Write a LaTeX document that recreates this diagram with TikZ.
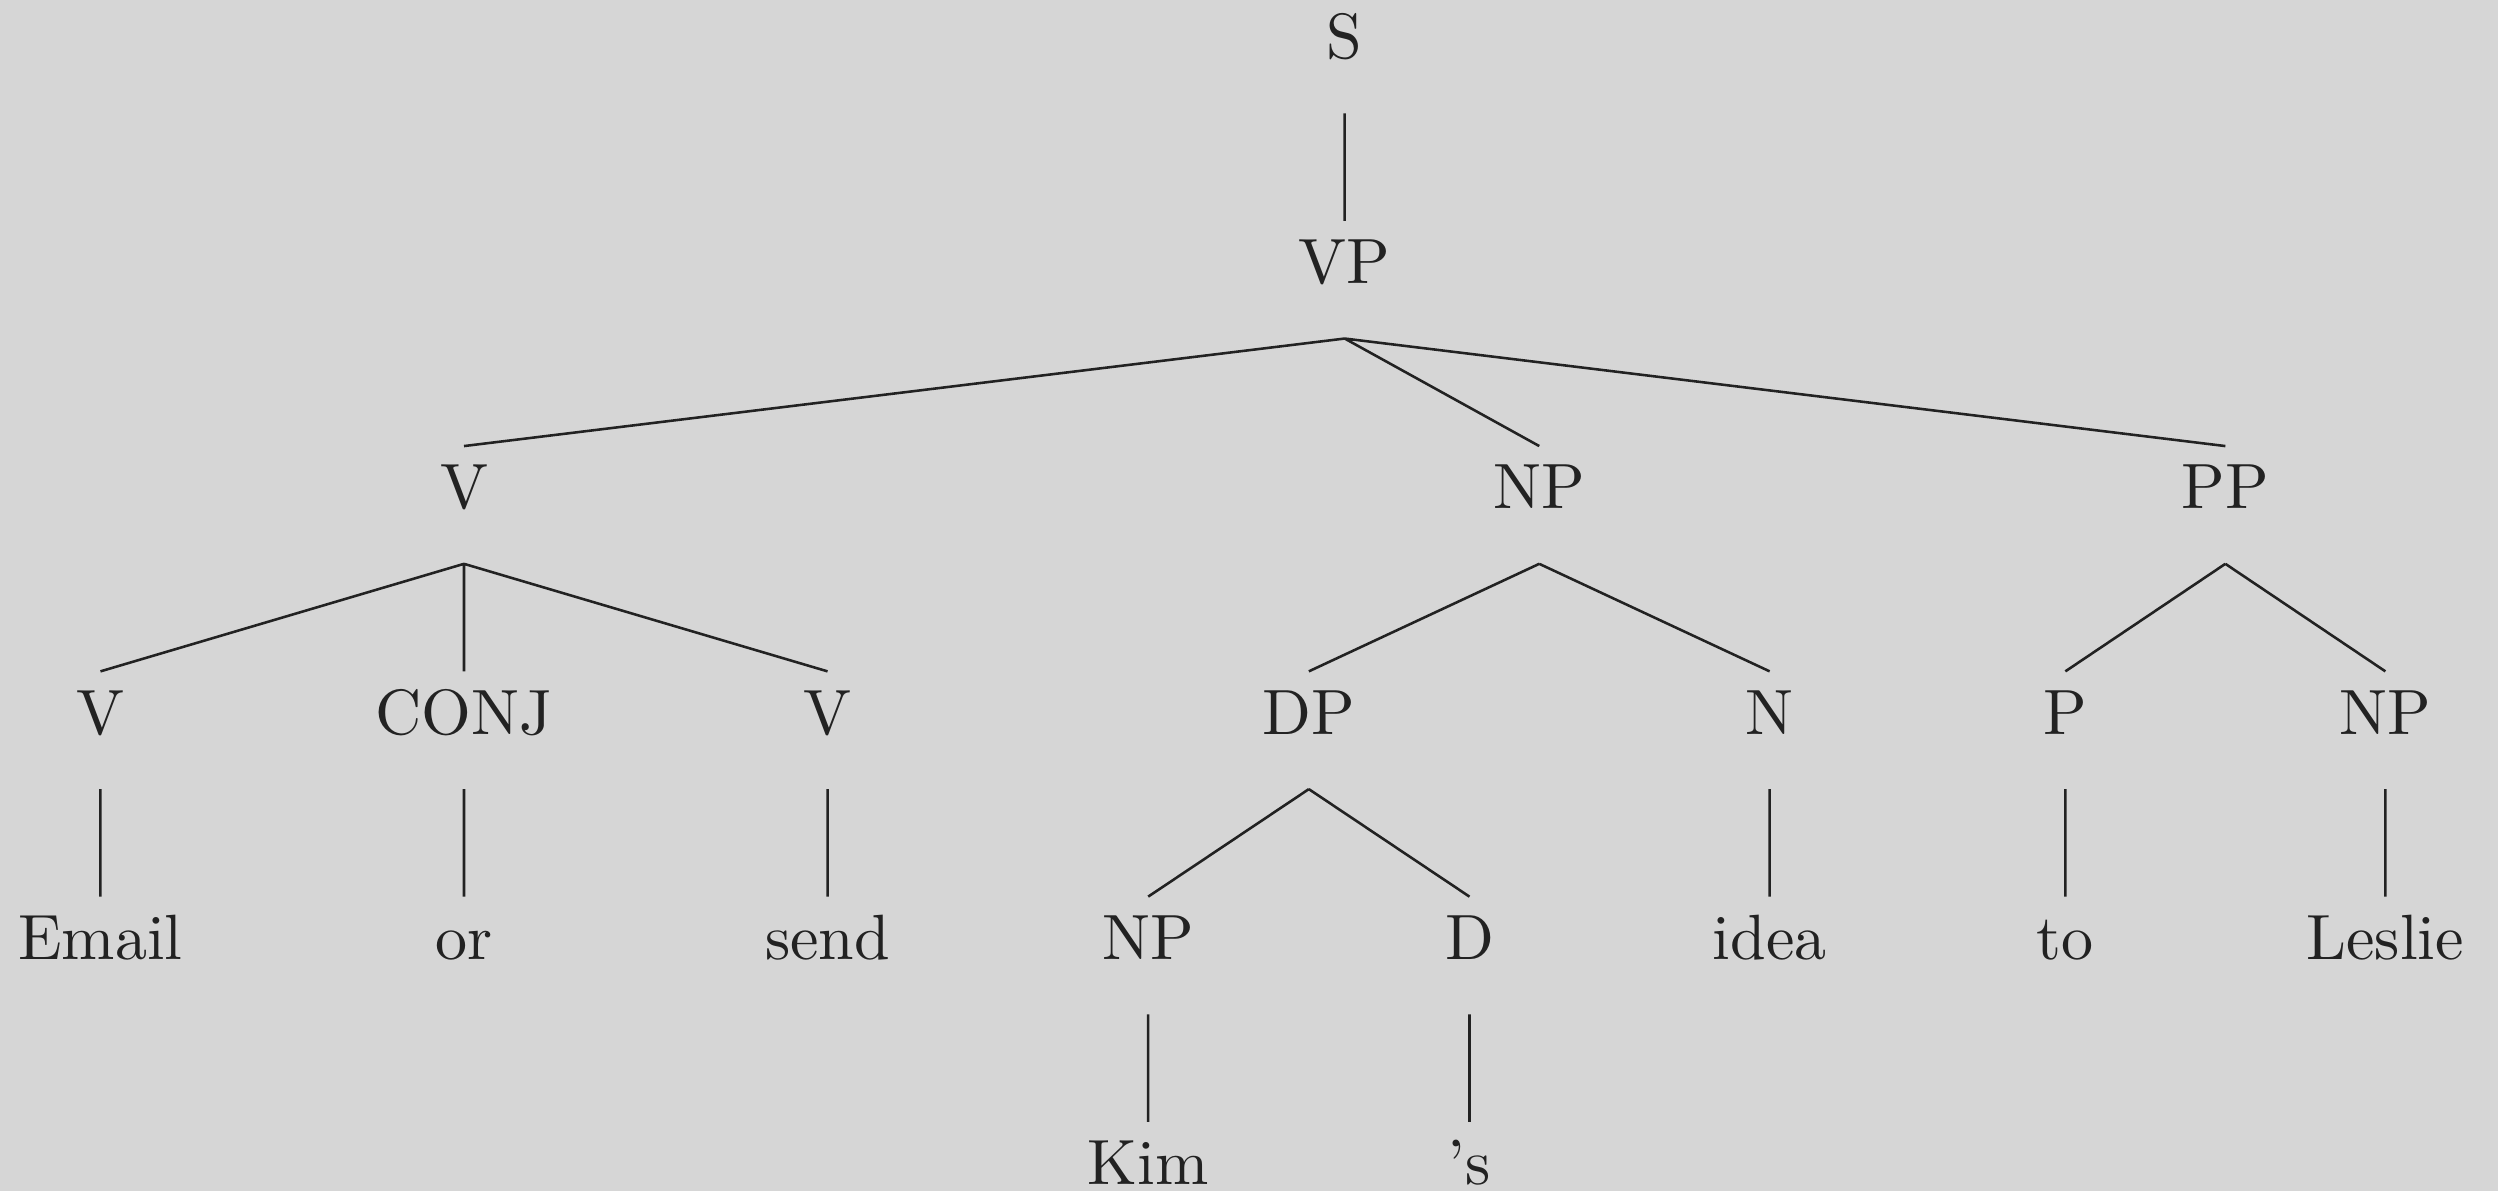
\documentclass[tikz,border=0pt]{standalone}
\definecolor{treebg}{RGB}{214,214,214}
\definecolor{treeink}{RGB}{34,34,34}
\tikzset{node distance=35.2pt, % distance between two levels of the tree
every node/.style={text=treeink, text height=6.8pt, text depth=5.6pt, inner sep=2.8pt}, % same box for every label
branch/.style={draw=treeink, line width=0.4pt}, % the lines of the tree
}

\begin{document}
\begin{tikzpicture}
\fill[treebg] (-210.1pt,8.5pt) rectangle (180.2pt,-177.6pt);
\useasboundingbox (-210.1pt,8.5pt) rectangle (180.2pt,-177.6pt);
\node (s) {S};
\node[below of=s] (vp) {VP};
\node[below of=vp, xshift=-137.6pt] (v) {V};
\node[below of=vp, xshift=30.4pt] (np) {NP};
\node[below of=vp, xshift=137.6pt] (pp) {PP};
\node[below of=v, xshift=-56.8pt] (v1) {V};
\node[below of=v] (conj) {CONJ};
\node[below of=v, xshift=56.8pt] (v2) {V};
\node[below of=np, xshift=-36pt] (dp) {DP};
\node[below of=np, xshift=36pt] (n) {N};
\node[below of=pp, xshift=-25pt] (p) {P};
\node[below of=pp, xshift=25pt] (np2) {NP};
\node[below of=v1] (email) {Email};
\node[below of=conj] (or) {or};
\node[below of=v2] (send) {send};
\node[below of=dp, xshift=-25.1pt] (np1) {NP};
\node[below of=dp, xshift=25.1pt] (d) {D};
\node[below of=n] (idea) {idea};
\node[below of=p] (to) {to};
\node[below of=np2] (leslie) {Leslie};
\node[below of=np1] (kim) {Kim};
\node[below of=d] (poss) {'s};
\draw[branch] (s.south) -- (vp.north)
(vp.south) -- (v.north)
(vp.south) -- (np.north)
(vp.south) -- (pp.north)
(v.south) -- (v1.north)
(v.south) -- (conj.north)
(v.south) -- (v2.north)
(np.south) -- (dp.north)
(np.south) -- (n.north)
(pp.south) -- (p.north)
(pp.south) -- (np2.north)
(v1.south) -- (email.north)
(conj.south) -- (or.north)
(v2.south) -- (send.north)
(dp.south) -- (np1.north)
(dp.south) -- (d.north)
(n.south) -- (idea.north)
(p.south) -- (to.north)
(np2.south) -- (leslie.north)
(np1.south) -- (kim.north)
(d.south) -- (poss.north);
\end{tikzpicture}
\end{document}
